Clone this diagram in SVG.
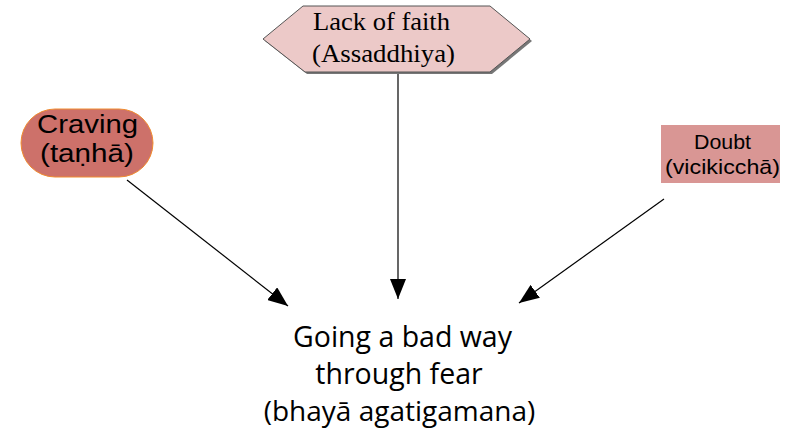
<svg xmlns="http://www.w3.org/2000/svg" width="800" height="437" viewBox="0 0 800 437">
<style>
.sans{font-family:"Liberation Sans",Arial,sans-serif;fill:#000}
.serif{font-family:"Liberation Serif","Times New Roman",serif;fill:#000}
.cal{font-family:"Open Sans","Noto Sans",sans-serif;fill:#000}
.edge{stroke:#000;stroke-width:1.2;fill:none;marker-end:url(#ah)}
</style>
<defs>
<marker id="ah" viewBox="0 0 20 16" refX="20" refY="8" markerWidth="20" markerHeight="16" markerUnits="userSpaceOnUse" orient="auto">
<path d="M0,0 L20,8 L0,16 Z" fill="#000"/>
</marker>
</defs>
<rect width="800" height="437" fill="#fff"/>
<g id="connectors">
<line class="edge" x1="127" y1="180" x2="288" y2="306"/>
<line class="edge" x1="398" y1="72" x2="398" y2="299"/>
<line class="edge" x1="664" y1="199" x2="519" y2="303"/>
</g>
<g id="lack">
<polygon points="265,41 305,8 492,8 532,41 492,74 307,74" fill="#777"/>
<polygon points="263,39 303,6 490,6 530,39 490,72 305,72" fill="#ecc9c8" stroke="#555" stroke-width="1"/>
<text class="serif" font-size="25" x="313" y="30" textLength="137" lengthAdjust="spacingAndGlyphs">Lack of faith</text>
<text class="serif" font-size="25" x="312" y="62" textLength="143" lengthAdjust="spacingAndGlyphs">(Assaddhiya)</text>
</g>
<g id="craving">
<rect x="21" y="109" width="132" height="68" rx="34" fill="#cd716a" stroke="#f08c30" stroke-width="1"/>
<text class="sans" font-size="26" x="37" y="133" textLength="101" lengthAdjust="spacingAndGlyphs">Craving</text>
<text class="sans" font-size="26" x="40" y="162" textLength="94" lengthAdjust="spacingAndGlyphs">(taṇhā)</text>
</g>
<g id="doubt">
<rect x="661" y="125" width="119" height="58" fill="#d99694"/>
<text class="sans" font-size="21" x="722.5" y="149" text-anchor="middle" textLength="57" lengthAdjust="spacingAndGlyphs">Doubt</text>
<text class="sans" font-size="21" x="722.5" y="174" text-anchor="middle" textLength="115" lengthAdjust="spacingAndGlyphs">(vicikicchā)</text>
</g>
<g id="going">
<text class="cal" font-size="28.5" x="402.5" y="347" text-anchor="middle">Going a bad way</text>
<text class="cal" font-size="28.5" x="399" y="384" text-anchor="middle">through fear</text>
<text class="cal" font-size="28" x="399.5" y="421" text-anchor="middle">(bhayā agatigamana)</text>
</g>
</svg>
